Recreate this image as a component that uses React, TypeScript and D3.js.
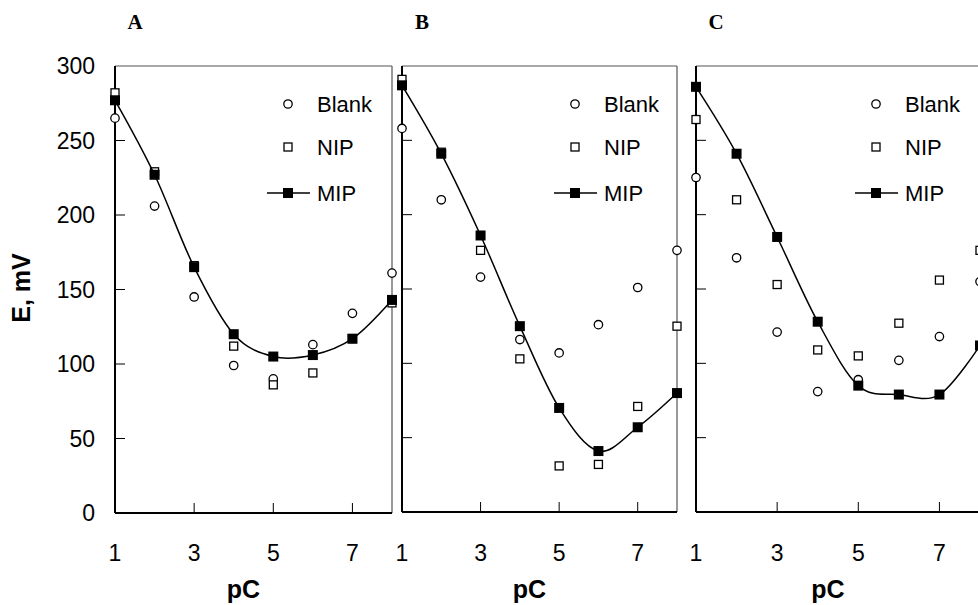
import * as React from "react"
import * as d3 from "d3"

const pC = [1, 2, 3, 4, 5, 6, 7, 8]
const yTicks = [0, 50, 100, 150, 200, 250, 300]
const xTickLabels = [1, 3, 5, 7]

// E, mV, per panel
const blankA = [265, 206, 145, 99, 90, 113, 134, 161]
const nipA = [282, 229, 166, 112, 86, 94, 117, 141]
const mipA = [277, 227, 165, 120, 105, 106, 117, 143]

const blankB = [258, 210, 158, 116, 107, 126, 151, 176]
const nipB = [291, 242, 176, 103, 31, 32, 71, 125]
const mipB = [287, 241, 186, 125, 70, 41, 57, 80]

const blankC = [225, 171, 121, 81, 89, 102, 118, 155]
const nipC = [264, 210, 153, 109, 105, 127, 156, 176]
const mipC = [286, 241, 185, 128, 85, 79, 79, 112]

const panels = [
    { label: "A", left: 115, right: 392, bottom: 513, legendX: 288, blank: blankA, nip: nipA, mip: mipA, showY: true },
    { label: "B", left: 402, right: 677, bottom: 512, legendX: 575, blank: blankB, nip: nipB, mip: mipB, showY: false },
    { label: "C", left: 696, right: 980, bottom: 512, legendX: 876, blank: blankC, nip: nipC, mip: mipC, showY: false },
]

const top = 66
const sans = "Arial, 'Liberation Sans', sans-serif"

function Panel({ p }) {
    const x = d3.scaleLinear().domain([1, 8]).range([p.left, p.right])
    const y = d3.scaleLinear().domain([0, 300]).range([p.bottom, top])
    const line = d3
        .line()
        .x((d) => x(d[0]))
        .y((d) => y(d[1]))
        .curve(d3.curveCardinal.tension(0))
    const mipPts = pC.map((c, i) => [c, p.mip[i]])
    const midX = (x(1) + x(8)) / 2
    const lx = p.legendX

    return (
        <g>
            {/* frame */}
            <line x1={p.left} x2={p.right} y1={top} y2={top} stroke="#555" strokeWidth={1.2} />
            <line x1={p.right} x2={p.right} y1={top} y2={p.bottom} stroke="#555" strokeWidth={1.2} />
            <line x1={p.left} x2={p.left} y1={top} y2={p.bottom} stroke="#000" strokeWidth={2} />
            <line x1={p.left} x2={p.right} y1={p.bottom} y2={p.bottom} stroke="#000" strokeWidth={2} />

            {yTicks.slice(1, -1).map((t) => (
                <line key={t} x1={p.left} x2={p.left + 10} y1={y(t)} y2={y(t)} stroke="#000" strokeWidth={1} />
            ))}
            {xTickLabels.slice(1).map((t) => (
                <line key={t} x1={x(t)} x2={x(t)} y1={p.bottom} y2={p.bottom - 10} stroke="#000" strokeWidth={1} />
            ))}

            {p.showY &&
                yTicks.map((t) => (
                    <text key={t} x={95} y={y(t)} dy="0.36em" textAnchor="end" fontSize={23} fontFamily={sans}>
                        {t}
                    </text>
                ))}
            {xTickLabels.map((t) => (
                <text key={t} x={x(t)} y={561} textAnchor="middle" fontSize={23} fontFamily={sans}>
                    {t}
                </text>
            ))}
            <text x={midX - 10} y={598} textAnchor="middle" fontSize={25} fontWeight="bold" fontFamily={sans}>
                pC
            </text>
            <text x={p.left + 20} y={29} textAnchor="middle" fontSize={21} fontWeight="bold" fontFamily="'Times New Roman', 'Liberation Serif', serif">
                {p.label}
            </text>

            {/* data */}
            {p.blank.map((v, i) => (
                <circle key={i} cx={x(pC[i])} cy={y(v)} r={4.2} fill="#fff" stroke="#000" strokeWidth={1.3} />
            ))}
            {p.nip.map((v, i) => (
                <rect key={i} x={x(pC[i]) - 4} y={y(v) - 4} width={8} height={8} fill="#fff" stroke="#000" strokeWidth={1.3} />
            ))}
            <path d={line(mipPts)} fill="none" stroke="#000" strokeWidth={1.5} />
            {p.mip.map((v, i) => (
                <rect key={i} x={x(pC[i]) - 5} y={y(v) - 5} width={10} height={10} fill="#000" />
            ))}

            {/* legend */}
            <circle cx={lx} cy={104} r={4.2} fill="#fff" stroke="#000" strokeWidth={1.3} />
            <text x={lx + 29} y={112} fontSize={22} fontFamily={sans}>Blank</text>
            <rect x={lx - 4} y={143} width={8} height={8} fill="#fff" stroke="#000" strokeWidth={1.3} />
            <text x={lx + 29} y={155} fontSize={22} fontFamily={sans}>NIP</text>
            <line x1={lx - 21} x2={lx + 22} y1={193} y2={193} stroke="#000" strokeWidth={1.5} />
            <rect x={lx - 5} y={188} width={10} height={10} fill="#000" />
            <text x={lx + 29} y={201} fontSize={22} fontFamily={sans}>MIP</text>
        </g>
    )
}

export default function App() {
    return (
        <svg width={978} height={605} style={{ position: "absolute", left: 0, top: 0, background: "#fff" }}>
            {panels.map((p) => (
                <Panel key={p.label} p={p} />
            ))}
            <text
                transform="translate(30,288) rotate(-90)"
                textAnchor="middle"
                fontSize={25}
                fontWeight="bold"
                fontFamily={sans}
            >
                E, mV
            </text>
        </svg>
    )
}
